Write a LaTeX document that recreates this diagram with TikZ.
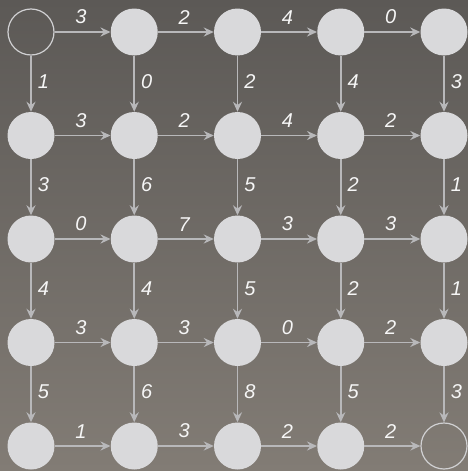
\documentclass[tikz,border=0pt]{standalone}
\usepackage{fontspec}
\setsansfont{Liberation Sans}
\usetikzlibrary{arrows.meta}
\definecolor{BgTop}{RGB}{92,89,86}
\definecolor{BgBottom}{RGB}{130,124,117}
\definecolor{NodeGray}{RGB}{217,217,219}
\definecolor{EdgeGray}{RGB}{184,184,186}
\definecolor{WtWhite}{RGB}{246,246,246}

\begin{document}
\begin{tikzpicture}[x=1pt,y=-1pt,
    vtx/.style={circle, fill=NodeGray, minimum size=47pt, inner sep=0pt},
    endvtx/.style={circle, draw=NodeGray!90!gray, line width=1.2pt, minimum size=46pt, inner sep=0pt},
    edge/.style={draw=EdgeGray, line width=1.9pt, -{Stealth[length=10pt,width=9pt]}},
    wt/.style={font=\sffamily\itshape\fontsize{20}{20}\selectfont, text=WtWhite, inner sep=3pt}]
  \useasboundingbox (0,0) rectangle (468,471);
  \shade[top color=BgTop, bottom color=BgBottom] (0,0) rectangle (468,471);

  % vertices
  \foreach \r in {1,...,5}
    \foreach \c in {1,...,5} {
      \def\vstyle{vtx}
      \ifnum\r\c=11 \def\vstyle{endvtx}\fi
      \ifnum\r\c=55 \def\vstyle{endvtx}\fi
      \node[\vstyle] (n\r\c) at ({31+103.25*(\c-1)},{32+103.5*(\r-1)}) {};
    }

  % horizontal edges
  \foreach \r/\ws in {1/{3,2,4,0},2/{3,2,4,2},3/{0,7,3,3},4/{3,3,0,2},5/{1,3,2,2}}
    \foreach \w [count=\c] in \ws {
      \pgfmathtruncatemacro\cn{\c+1}
      \draw[edge] (n\r\c) -- node[wt, above=4pt, pos=0.47] {\w} (n\r\cn);
    }

  % vertical edges
  \foreach \r/\ws in {1/{1,0,2,4,3},2/{3,6,5,2,1},3/{4,4,5,2,1},4/{5,6,8,5,3}}
    \foreach \w [count=\c] in \ws {
      \pgfmathtruncatemacro\rn{\r+1}
      \draw[edge] (n\r\c) -- node[wt, right=3pt, pos=0.46] {\w} (n\rn\c);
    }
\end{tikzpicture}
\end{document}
